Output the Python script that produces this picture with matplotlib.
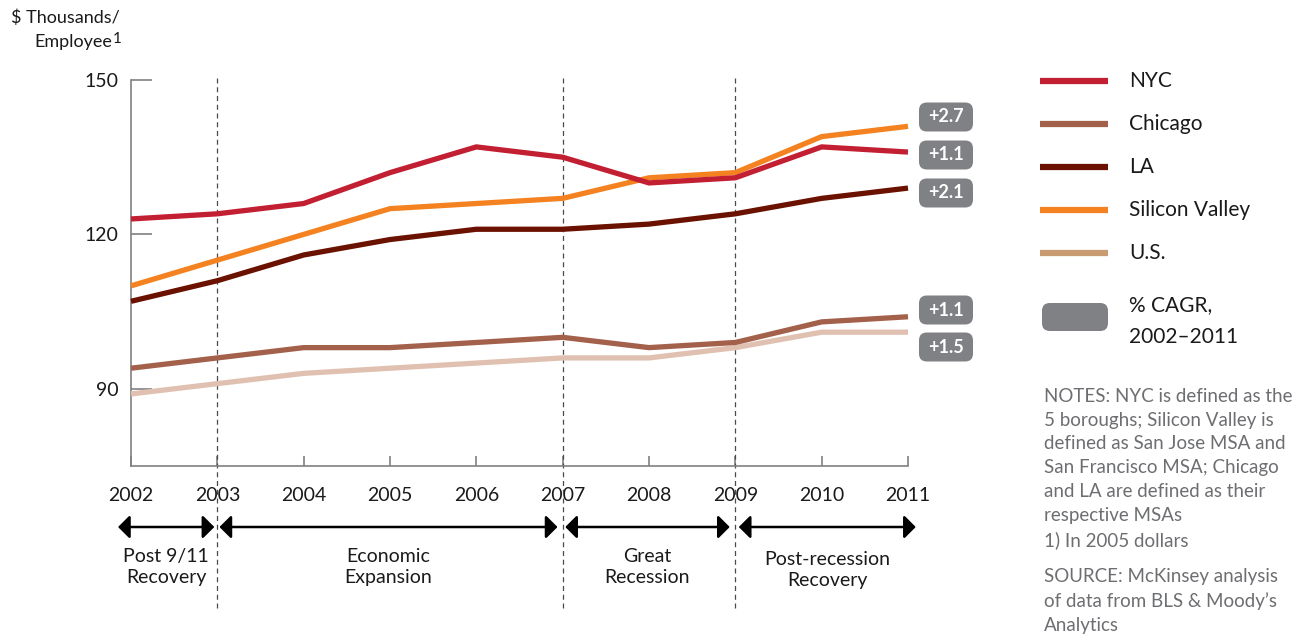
import matplotlib
matplotlib.use("Agg")
import matplotlib.pyplot as plt
import matplotlib.transforms as mtransforms
from matplotlib.patches import FancyBboxPatch
from matplotlib.lines import Line2D

plt.rcParams['font.family'] = ['Lato', 'DejaVu Sans']

# ---------------- data ----------------
years = [2002, 2003, 2004, 2005, 2006, 2007, 2008, 2009, 2010, 2011]
nyc = [123, 124, 126, 132, 137, 135, 130, 131, 137, 136]
chicago = [94, 96, 98, 98, 99, 100, 98, 99, 103, 104]
la = [107, 111, 116, 119, 121, 121, 122, 124, 127, 129]
silicon_valley = [110, 115, 120, 125, 126, 127, 131, 132, 139, 141]
us = [89, 91, 93, 94, 95, 96, 96, 98, 101, 101]

series_names = ["NYC", "Chicago", "LA", "Silicon Valley", "U.S."]
cagr_labels = ["+2.7", "+1.1", "+2.1", "+1.1", "+1.5"]   # SV, NYC, LA, Chicago, US
y_ticks = [90, 120, 150]
period_bounds = [2002, 2003, 2007, 2009, 2011]
period_labels = ["Post 9/11\nRecovery", "Economic\nExpansion", "Great\nRecession",
                 "Post-recession\nRecovery"]
notes = ("NOTES: NYC is defined as the\n5 boroughs; Silicon Valley is\n"
         "defined as San Jose MSA and\nSan Francisco MSA; Chicago\n"
         "and LA are defined as their\nrespective MSAs\n1) In 2005 dollars")
source = "SOURCE: McKinsey analysis\nof data from BLS & Moody\u2019s\nAnalytics"

# ---------------- style ----------------
W, H = 1304, 636
line_colors = {"NYC": "#C21F32", "Chicago": "#A3604A", "LA": "#6B1100",
               "Silicon Valley": "#F58220", "U.S.": "#E0C1B1"}
legend_colors = {"NYC": "#C21F32", "Chicago": "#A3604A", "LA": "#6B1100",
                 "Silicon Valley": "#F58220", "U.S.": "#C89B70"}
gray_box = "#808184"
axis_gray = "#808080"
text_col = "#1a1a1a"
note_col = "#6d6e71"


def fx(px):
    return px / W


def fy(py):
    return 1 - py / H


fig = plt.figure(figsize=(W / 100, H / 100), dpi=100)
ax = fig.add_axes([fx(131), fy(466), fx(908) - fx(131), fy(80) - fy(466)])

data = {"NYC": nyc, "Chicago": chicago, "LA": la,
        "Silicon Valley": silicon_valley, "U.S.": us}
order = ["U.S.", "Chicago", "LA", "Silicon Valley", "NYC"]
for name in order:
    ax.plot(years, data[name], color=line_colors[name], lw=3.8,
            solid_capstyle='butt', solid_joinstyle='miter', clip_on=False, zorder=3)

ax.set_xlim(2002, 2011)
ax.set_ylim(75, 150)
ax.set_yticks(y_ticks)
ax.set_xticks(years)
ax.set_xticklabels([str(y) for y in years])
for s in ["top", "right"]:
    ax.spines[s].set_visible(False)
for s in ["left", "bottom"]:
    ax.spines[s].set_color(axis_gray)
    ax.spines[s].set_linewidth(1.2)
ax.tick_params(axis='y', direction='in', length=15, width=1.2, color=axis_gray,
               labelsize=14, labelcolor=text_col, pad=9)
ax.tick_params(axis='x', direction='in', length=7, width=1.2, color=axis_gray,
               labelsize=14, labelcolor=text_col, pad=15)
ax.set_facecolor('none')

# vertical dashed period separators
for yr in period_bounds[1:-1]:
    ax.axvline(yr, ymin=-0.368, ymax=1.013, color="#4a4a4a", lw=0.9,
               dashes=(4, 3), clip_on=False, zorder=2)

# period arrows
trans = mtransforms.blended_transform_factory(ax.transData, fig.transFigure)
arrow_y = fy(527)
gaps = [(-0.15, -0.035), (0.025, -0.06), (0.03, -0.065), (0.04, 0.09)]
label_y = [567, 567, 567, 570]
for i in range(4):
    x0 = period_bounds[i] + gaps[i][0]
    x1 = period_bounds[i + 1] + gaps[i][1]
    ax.annotate("", xy=(x1, arrow_y), xytext=(x0, arrow_y),
                xycoords=trans, textcoords=trans,
                arrowprops=dict(arrowstyle="<|-|>,head_length=0.35,head_width=0.35",
                                mutation_scale=20, color="black", lw=1.8,
                                shrinkA=0, shrinkB=0), annotation_clip=False)
    xm = (x0 + x1) / 2
    ax.text(xm, fy(label_y[i]), period_labels[i], transform=trans, ha='center',
            va='center', fontsize=14, color=text_col, linespacing=1.3)

# CAGR boxes
box_y = [117, 155, 193, 310, 347]
for lab, by in zip(cagr_labels, box_y):
    bw, bh = 54, 29
    p = FancyBboxPatch((fx(919), fy(by + bh / 2)), fx(bw), bh / H,
                       boxstyle="round,pad=0,rounding_size=0.006",
                       transform=fig.transFigure, facecolor=gray_box,
                       edgecolor='none', mutation_aspect=W / H)
    fig.patches.append(p)
    fig.text(fx(919 + bw / 2), fy(by), lab, ha='center', va='center',
             color='white', fontsize=13, fontweight='bold')

# legend
leg_y = [81, 124, 167, 210, 253]
for name, ly in zip(series_names, leg_y):
    fig.lines.append(Line2D([fx(1040), fx(1108)], [fy(ly), fy(ly)],
                            transform=fig.transFigure, color=legend_colors[name],
                            lw=4.5, solid_capstyle='butt'))
    fig.text(fx(1129), fy(ly), name, ha='left', va='center', fontsize=15,
             color=text_col)
p = FancyBboxPatch((fx(1042), fy(331)), fx(66), 28 / H,
                   boxstyle="round,pad=0,rounding_size=0.006",
                   transform=fig.transFigure, facecolor=gray_box, edgecolor='none',
                   mutation_aspect=W / H)
fig.patches.append(p)
fig.text(fx(1129), fy(321), "% CAGR,\n2002\u20132011", ha='left', va='center',
         fontsize=15, color=text_col, linespacing=1.8)

# notes
fig.text(fx(1044), fy(388), notes, ha='left', va='top', fontsize=13.5,
         color=note_col, linespacing=1.48)
fig.text(fx(1044), fy(568), source, ha='left', va='top', fontsize=13.5,
         color=note_col, linespacing=1.48)

# y label
fig.text(fx(120), fy(18), "$ Thousands/", ha='right', va='center', fontsize=13,
         color=text_col)
fig.text(fx(112), fy(42), "Employee", ha='right', va='center', fontsize=13,
         color=text_col)
fig.text(fx(113), fy(39), "1", ha='left', va='center', fontsize=11,
         color=text_col)

fig.savefig("out.png", dpi=100)
